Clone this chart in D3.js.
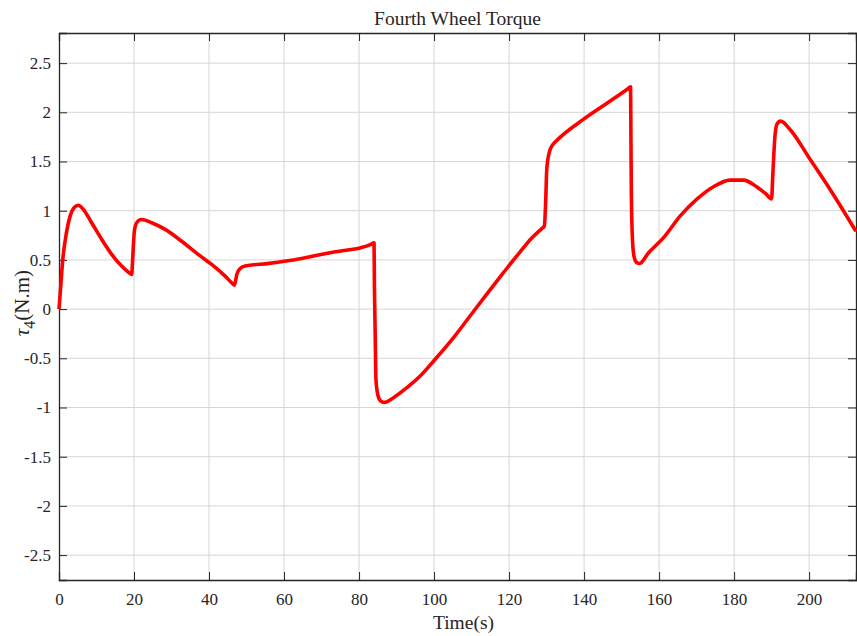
<!DOCTYPE html>
<html>
<head>
<meta charset="utf-8">
<script src="https://cdn.jsdelivr.net/npm/d3@7"></script>
<style>
  body { margin: 0; background: #fff; }
  text { font-family: "Liberation Serif", "Times New Roman", serif; fill: #262626; }
</style>
</head>
<body>
<div id="canvas"></div>
<script>
// time (s) and torque (N.m)
var timeVals = [0, 0.4, 1.0, 2.0, 3.0, 4.0, 5.15, 6.5, 8.7, 11.4, 14.05, 16.7, 18.6, 19.4,
  19.6, 20.1, 20.7, 21.9, 24.7, 28.3, 32.7, 37.1, 40.7, 44.3, 46.2, 46.8,
  47.4, 48.3, 49.6, 56, 64.3, 72.3, 77, 80.3, 83.3, 84.0,
  84.1, 84.3, 84.5, 85.0, 85.8, 86.7, 89.2, 92.7, 96.3, 100.3, 105.2, 109.6, 114, 118.5, 122.9, 126, 128.7, 129.4,
  129.75, 130.05, 130.7, 131.7, 132.7, 139.8, 146, 151.5, 152.4,
  152.5, 152.6, 152.9, 153.3, 154.05, 154.8, 157.2, 161.2, 165.6, 170,
  174.5, 178.9, 182.5, 186, 188.5, 190.0,
  190.3, 190.9, 191.4, 192.4, 194.9, 200.3, 205.6, 212.5];
var torqueVals = [0, 0.2, 0.5, 0.78, 0.95, 1.03, 1.055, 1.013, 0.878, 0.708, 0.556, 0.437, 0.372, 0.353,
  0.48, 0.793, 0.878, 0.91, 0.878, 0.81, 0.69, 0.556, 0.454, 0.335, 0.262, 0.244,
  0.353, 0.413, 0.437, 0.465, 0.512, 0.573, 0.6, 0.622, 0.66, 0.675,
  0.234, -0.24, -0.71, -0.87, -0.935, -0.948, -0.9, -0.8, -0.68, -0.51, -0.29, -0.07, 0.15, 0.37, 0.58, 0.72, 0.818, 0.843,
  1.08, 1.42, 1.59, 1.674, 1.714, 1.928, 2.09, 2.235, 2.26,
  1.69, 1.18, 0.708, 0.539, 0.472, 0.464, 0.573, 0.726, 0.945, 1.115,
  1.244, 1.311, 1.311, 1.244, 1.17, 1.12,
  1.35, 1.76, 1.877, 1.91, 1.826, 1.52, 1.216, 0.79];

var xTicks = [0, 20, 40, 60, 80, 100, 120, 140, 160, 180, 200];
var yTicks = [-2.5, -2, -1.5, -1, -0.5, 0, 0.5, 1, 1.5, 2, 2.5];

var m = {t:33, r:1, b:56, l:59},
    W = 857, H = 636,
    w = W - m.l - m.r,
    h = H - m.t - m.b;

var svg = d3.select('#canvas').append('svg')
    .attr('width', W).attr('height', H);

var plot = svg.append('g')
    .attr('transform', 'translate(' + m.l + ',' + m.t + ')');

var x = d3.scaleLinear().domain([0, 212.5]).range([0, w]);
var y = d3.scaleLinear().domain([-2.753, 2.806]).range([h, 0]);

// grid
plot.append('g').selectAll('line').data(xTicks.slice(1)).enter().append('line')
    .attr('x1', d => x(d)).attr('x2', d => x(d))
    .attr('y1', 0).attr('y2', h)
    .style('stroke', '#d6d6d6').style('stroke-width', '1px');
plot.append('g').selectAll('line').data(yTicks).enter().append('line')
    .attr('x1', 0).attr('x2', w)
    .attr('y1', d => y(d)).attr('y2', d => y(d))
    .style('stroke', '#d6d6d6').style('stroke-width', '1px');

// axes with inward ticks
var fmt = function(d){ return String(d); };
var xAxis = plot.append('g').attr('transform', 'translate(0,' + h + ')')
    .call(d3.axisBottom(x).tickValues(xTicks).tickSize(-8).tickPadding(13).tickFormat(fmt));
var xTop = plot.append('g')
    .call(d3.axisTop(x).tickValues(xTicks).tickSize(-8).tickFormat(''));
var yAxis = plot.append('g')
    .call(d3.axisLeft(y).tickValues(yTicks).tickSize(-8).tickPadding(8).tickFormat(fmt));
var yRight = plot.append('g').attr('transform', 'translate(' + w + ',0)')
    .call(d3.axisRight(y).tickValues(yTicks).tickSize(-8).tickFormat(''));

[xAxis, xTop, yAxis, yRight].forEach(function(a){
    a.select('.domain').style('stroke', '#262626').style('stroke-width', '1.3px');
    a.selectAll('.tick line').style('stroke', '#262626').style('stroke-width', '1px');
    a.selectAll('text').style('font-size', '17px').style('fill', '#262626')
        .style('font-family', '"Liberation Serif", serif');
});

// curve
var pts = timeVals.map(function(t, i){ return [t, torqueVals[i]]; });
var line = d3.line()
    .x(d => x(d[0])).y(d => y(d[1]))
    .curve(d3.curveMonotoneX);
plot.append('path').datum(pts)
    .attr('d', line)
    .style('fill', 'none')
    .style('stroke', '#ff0000')
    .style('stroke-width', '3.6px')
    .style('stroke-linejoin', 'round');

// titles
svg.append('text')
    .attr('x', m.l + w / 2).attr('y', 25)
    .attr('text-anchor', 'middle')
    .style('font-size', '19.5px')
    .text('Fourth Wheel Torque');

svg.append('text')
    .attr('x', m.l + w / 2 + 6).attr('y', 629)
    .attr('text-anchor', 'middle')
    .style('font-size', '19.5px')
    .text('Time(s)');

var yl = svg.append('text')
    .attr('transform', 'translate(29,' + (m.t + y(0) - 6) + ') rotate(-90)')
    .attr('text-anchor', 'middle')
    .style('font-size', '21px');
yl.append('tspan').style('font-style', 'italic').text('τ');
yl.append('tspan').attr('dy', 6).style('font-size', '16px').text('4');
yl.append('tspan').attr('dy', -6).text('(N.m)');
</script>
</body>
</html>
